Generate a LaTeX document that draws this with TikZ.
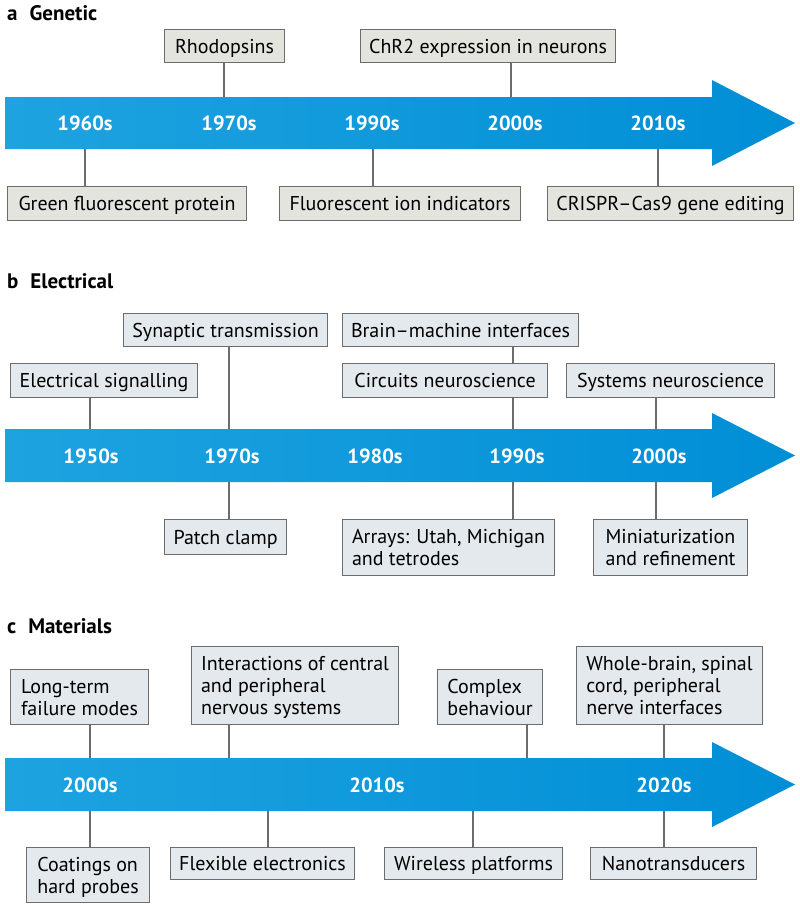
\documentclass[tikz,border=0pt]{standalone}
\usepackage{fontspec}
\setmainfont{PT Sans}
\definecolor{arrL}{RGB}{30,163,224}
\definecolor{arrR}{RGB}{0,142,214}
\definecolor{boxA}{RGB}{228,228,223}
\definecolor{boxB}{RGB}{227,233,236}
\definecolor{edge}{RGB}{108,108,108}
\newcommand{\boxfont}{\fontsize{20}{22}\selectfont}
\newcommand{\yearfont}{\fontsize{20.5}{24}\selectfont\bfseries}
\newcommand{\titlefont}{\fontsize{21}{24}\selectfont\bfseries}
\tikzset{
  evbox/.style={draw=edge, line width=1.1pt, inner sep=0pt, anchor=north west, font=\boxfont, align=left},
  gbox/.style={evbox, fill=boxA, text height=16pt, text depth=2pt},
  bbox/.style={evbox, fill=boxB, text height=16pt, text depth=2pt},
  mbox/.style={evbox, fill=boxB, text depth=0pt},
  year/.style={text=white, font=\yearfont},
  ptitle/.style={anchor=base west, font=\titlefont, inner sep=0pt},
  link/.style={draw=edge, line width=1.1pt},
  tl/.style={left color=arrL, right color=arrR, draw=none}
}
\begin{document}
\begin{tikzpicture}[x=1pt,y=-1pt]
\useasboundingbox (0,0) rectangle (800,908);
% ---------- panel a ----------
\node[ptitle] (ta) at (7,20) {a\hspace{12pt}Genetic};
\shade[tl] (5,97) -- (712,97) -- (712,80) -- (795,123) -- (712,166) -- (712,149) -- (5,149) -- cycle;
\coordinate (aT) at (0,97);
\coordinate (aB) at (0,149);
\node[year] (a1) at (85,123) {1960s};
\node[year] (a2) at (229,123) {1970s};
\node[year] (a3) at (372,123) {1990s};
\node[year] (a4) at (515,123) {2000s};
\node[year] (a5) at (658,123) {2010s};
\node[gbox, minimum width=120, minimum height=33] (rho) at (164,29) {Rhodopsins};
\node[gbox, minimum width=255, minimum height=33] (chr) at (360,29) {ChR2 expression in neurons};
\node[gbox, minimum width=239, minimum height=34] (gfp) at (7,186) {Green fluorescent protein};
\node[gbox, minimum width=241, minimum height=34] (fii) at (279,186) {Fluorescent ion indicators};
\node[gbox, minimum width=246, minimum height=34] (cri) at (547,186) {CRISPR–Cas9 gene editing};
\draw[link] (rho.south -| 224,0) coordinate (r1) -- (r1 |- aT);
\draw[link] (chr.south -| 511,0) coordinate (c1) -- (c1 |- aT);
\draw[link] (gfp.north -| a1) coordinate (g1) -- (g1 |- aB);
\draw[link] (fii.north -| 373,0) coordinate (f1) -- (f1 |- aB);
\draw[link] (cri.north -| a5) coordinate (k1) -- (k1 |- aB);
% ---------- panel b ----------
\node[ptitle] (tb) at (7,288) {b\hspace{12pt}Electrical};
\shade[tl] (5,429) -- (712,429) -- (712,413) -- (795,455.5) -- (712,498) -- (712,482) -- (5,482) -- cycle;
\coordinate (bT) at (0,429);
\coordinate (bB) at (0,482);
\node[year] (b1) at (91,456) {1950s};
\node[year] (b2) at (232,456) {1970s};
\node[year] (b3) at (375,456) {1980s};
\node[year] (b4) at (517,456) {1990s};
\node[year] (b5) at (659,456) {2000s};
\node[bbox, minimum width=204, minimum height=33] (syn) at (123,313) {Synaptic transmission};
\node[bbox, minimum width=187, minimum height=34] (els) at (10,363) {Electrical signalling};
\node[bbox, minimum width=236, minimum height=33] (bmi) at (342,313) {Brain–machine interfaces};
\node[bbox, minimum width=205, minimum height=34] (cir) at (342,363) {Circuits neuroscience};
\node[bbox, minimum width=208, minimum height=34] (sys) at (566,363) {Systems neuroscience};
\node[bbox, minimum width=122, minimum height=35] (pat) at (164,519) {Patch clamp};
\node[mbox, minimum width=212, minimum height=56] (arr) at (342,519) {Arrays: Utah, Michigan\\and tetrodes};
\node[mbox, minimum width=154, minimum height=56] (min) at (593,519) {Miniaturization\\and refinement};
\draw[link] (syn.south -| 229,0) coordinate (s1) -- (s1 |- bT);
\draw[link] (els.south -| 90,0) coordinate (e1) -- (e1 |- bT);
\draw[link] (bmi.south -| 513,0) coordinate (m1) -- (m1 |- cir.north);
\draw[link] (cir.south -| 513,0) coordinate (m2) -- (m2 |- bT);
\draw[link] (sys.south -| 656,0) coordinate (y1) -- (y1 |- bT);
\draw[link] (pat.north -| 229,0) coordinate (p1) -- (p1 |- bB);
\draw[link] (arr.north -| 513,0) coordinate (u1) -- (u1 |- bB);
\draw[link] (min.north -| 656,0) coordinate (n1) -- (n1 |- bB);
% ---------- panel c ----------
\node[ptitle] (tc) at (7,633) {c\hspace{12pt}Materials};
\shade[tl] (5,758) -- (712,758) -- (712,742) -- (795,784.5) -- (712,827) -- (712,811) -- (5,811) -- cycle;
\coordinate (cT) at (0,758);
\coordinate (cB) at (0,811);
\node[year] (c1y) at (90,785) {2000s};
\node[year] (c2y) at (377,785) {2010s};
\node[year] (c3y) at (664,785) {2020s};
\node[mbox, minimum width=138, minimum height=55] (ltf) at (10,669) {Long-term\\failure modes};
\node[mbox, minimum width=207, minimum height=78] (icp) at (191,646) {Interactions of central\\and peripheral\\nervous systems};
\node[mbox, minimum width=105, minimum height=55] (cbh) at (437,669) {Complex\\behaviour};
\node[mbox, minimum width=186, minimum height=78] (wbs) at (576,646) {Whole-brain, spinal\\cord, peripheral\\nerve interfaces};
\node[mbox, minimum width=123, minimum height=55] (coa) at (26,847) {Coatings on\\hard probes};
\node[bbox, minimum width=184, minimum height=32] (flx) at (170,847) {Flexible electronics};
\node[bbox, minimum width=178, minimum height=32] (wir) at (384,847) {Wireless platforms};
\node[bbox, minimum width=166, minimum height=32] (nan) at (590,847) {Nanotransducers};
\draw[link] (ltf.south -| 90,0) coordinate (l1) -- (l1 |- cT);
\draw[link] (icp.south -| 229,0) coordinate (i1) -- (i1 |- cT);
\draw[link] (cbh.south -| 527,0) coordinate (h1) -- (h1 |- cT);
\draw[link] (wbs.south -| 664,0) coordinate (w1) -- (w1 |- cT);
\draw[link] (coa.north -| 90,0) coordinate (o1) -- (o1 |- cB);
\draw[link] (flx.north -| 268,0) coordinate (x1) -- (x1 |- cB);
\draw[link] (wir.north -| 473,0) coordinate (z1) -- (z1 |- cB);
\draw[link] (nan.north -| 664,0) coordinate (q1) -- (q1 |- cB);
\end{tikzpicture}
\end{document}
